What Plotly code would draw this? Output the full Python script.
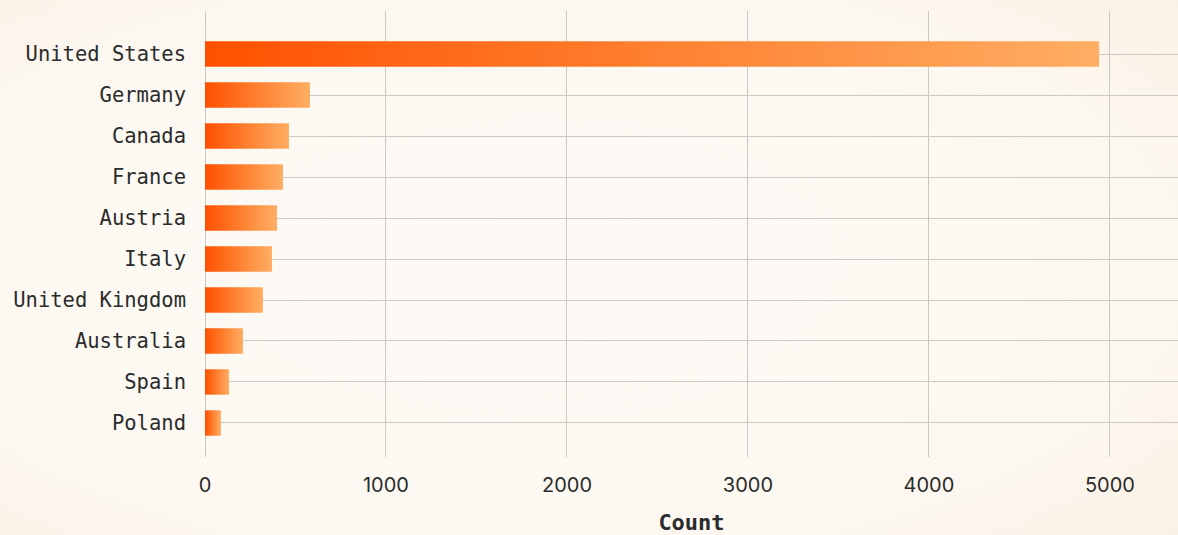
import base64
import plotly.graph_objects as go

countries = ["United States", "Germany", "Canada", "France", "Austria",
             "Italy", "United Kingdom", "Australia", "Spain", "Poland"]
counts = [4940, 580, 464, 431, 398, 370, 320, 210, 133, 88]
x_ticks = [0, 1000, 2000, 3000, 4000, 5000]

W, H = 1178, 535
ml, mr, mt, mb = 205, 0, 11, 78
pw, ph = W - ml - mr, H - mt - mb

half = 0.31
fig = go.Figure()
for i, (c, v) in enumerate(zip(countries, counts)):
    fig.add_trace(go.Scatter(
        x=[0, v, v, 0, 0],
        y=[i - half, i - half, i + half, i + half, i - half],
        mode="lines", line=dict(width=0), fill="toself",
        fillgradient=dict(type="horizontal",
                          colorscale=[[0, "#ff5000"], [0.5, "#ff8030"], [1, "#ffae64"]]),
        name=c, showlegend=False, hoverinfo="skip",
    ))

svg = f'''<svg xmlns="http://www.w3.org/2000/svg" width="{W}" height="{H}">
<defs>
<radialGradient id="g" cx="0.45" cy="0.5" r="0.8">
<stop offset="0" stop-color="#fdfaf6"/>
<stop offset="0.65" stop-color="#fcf8f1"/>
<stop offset="1" stop-color="#fbefe0"/>
</radialGradient>
</defs>
<rect width="{W}" height="{H}" fill="url(#g)"/>
</svg>'''
src = "data:image/svg+xml;base64," + base64.b64encode(svg.encode()).decode()

fig.add_layout_image(dict(
    source=src, xref="paper", yref="paper",
    x=-ml / pw, y=1 + mt / ph, sizex=W / pw, sizey=H / ph,
    xanchor="left", yanchor="top", sizing="stretch", layer="below",
))

fig.update_layout(
    width=W, height=H,
    margin=dict(l=ml, r=mr, t=mt, b=mb),
    paper_bgcolor="#fcf8f1", plot_bgcolor="rgba(0,0,0,0)",
    xaxis=dict(
        range=[0, 5376], tickvals=x_ticks, ticktext=[str(t) for t in x_ticks],
        showgrid=True, gridcolor="#ccc9c5", gridwidth=1,
        zeroline=True, zerolinecolor="#ccc9c5", zerolinewidth=1,
        showline=False, ticks="", ticklen=0, ticklabelstandoff=14,
        tickfont=dict(family="Inter, Noto Sans, sans-serif", size=20, color="#2b2b2b"),
        title=dict(text="Count", standoff=19,
                   font=dict(family="DejaVu Sans Mono, monospace", size=22,
                             color="#2b2b2b", weight="bold")),
    ),
    yaxis=dict(
        range=[9.83, -1.05], tickvals=list(range(len(countries))), ticktext=countries,
        showgrid=True, gridcolor="#ccc9c5", gridwidth=1,
        zeroline=False, showline=False, ticks="", ticklen=0, ticklabelstandoff=18,
        tickfont=dict(family="DejaVu Sans Mono, monospace", size=20.5, color="#2b2b2b"),
    ),
)

fig.write_html("out.html")
